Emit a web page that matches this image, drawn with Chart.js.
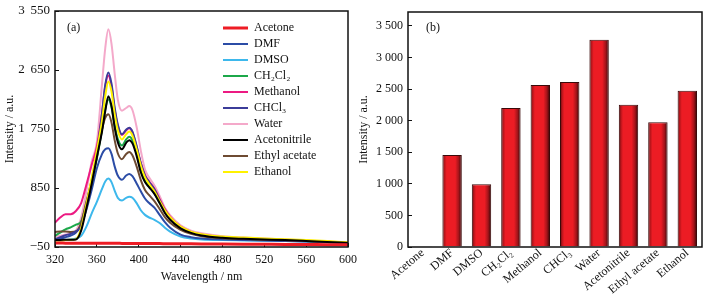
<!DOCTYPE html>
<html>
<head>
<meta charset="utf-8">
<script src="https://cdn.jsdelivr.net/npm/chart.js@4"></script>
<style>
	html, body { margin: 0; padding: 0; background: #fff; }
	body { width: 726px; height: 304px; position: relative; overflow: hidden; }
	#boxA { position: absolute; left: 0; top: 0; width: 360px; height: 304px; }
	#boxB { position: absolute; left: 356px; top: 0; width: 370px; height: 304px; }
</style>
</head>
<body>
<div id="boxA"><canvas id="spectraChart" width="360" height="304"></canvas></div>
<div id="boxB"><canvas id="peakChart" width="370" height="304"></canvas></div>
<script>
// panel (a): emission spectra
const wavelengths = [320, 325, 330, 335, 340, 345, 350, 355, 360, 365, 368, 371, 374, 377, 380, 384, 388, 391, 394, 398, 402, 406, 410, 415, 420, 425, 430, 440, 450, 460, 480, 500, 520, 540, 560, 580, 600];

const acetone = [10, 10, 9, 9, 8, 8, 8, 7, 7, 7, 7, 7, 6, 6, 6, 5, 5, 5, 5, 4, 4, 3, 3, 2, 2, 1, 0, -1, -2, -3, -5, -7, -9, -11, -12, -14, -15];
const dmf = [65, 80, 100, 125, 170, 290, 520, 820, 1150, 1370, 1440, 1455, 1370, 1180, 1040, 975, 1040, 1063, 1030, 920, 800, 690, 620, 550, 440, 330, 245, 140, 100, 80, 65, 55, 50, 42, 33, 22, 10];
const dmso = [45, 50, 55, 65, 80, 120, 260, 460, 640, 840, 950, 995, 940, 810, 700, 660, 700, 717, 700, 620, 510, 440, 400, 365, 315, 245, 185, 110, 80, 65, 55, 50, 45, 40, 32, 22, 10];
const ch2cl2 = [120, 170, 220, 250, 290, 340, 620, 950, 1300, 1750, 2050, 2200, 2080, 1800, 1600, 1500, 1590, 1630, 1580, 1380, 1120, 960, 870, 770, 620, 480, 375, 240, 165, 125, 90, 75, 65, 55, 42, 28, 12];
const methanol = [320, 400, 450, 450, 500, 620, 900, 1200, 1480, 2000, 2400, 2565, 2400, 2050, 1800, 1660, 1730, 1760, 1700, 1480, 1230, 1050, 950, 840, 680, 530, 415, 260, 180, 140, 100, 80, 70, 58, 45, 30, 15];
const chcl3 = [70, 100, 130, 150, 190, 260, 560, 920, 1380, 2000, 2420, 2610, 2440, 2080, 1820, 1670, 1740, 1770, 1710, 1490, 1230, 1040, 940, 830, 660, 510, 395, 250, 170, 130, 95, 80, 70, 58, 45, 30, 15];
const water = [110, 120, 140, 160, 200, 400, 800, 1250, 1550, 2450, 2980, 3270, 3050, 2600, 2200, 2030, 2070, 2100, 2040, 1780, 1420, 1130, 1010, 890, 730, 550, 435, 280, 200, 160, 115, 95, 80, 65, 50, 35, 20];
const acetonitrile = [55, 58, 60, 62, 65, 200, 540, 910, 1320, 1720, 2020, 2250, 2100, 1780, 1550, 1440, 1540, 1580, 1530, 1340, 1090, 940, 860, 760, 620, 470, 365, 235, 165, 125, 90, 75, 65, 55, 42, 28, 12];
const ethylAcetate = [180, 185, 185, 180, 185, 320, 640, 970, 1330, 1750, 1920, 1975, 1850, 1580, 1380, 1290, 1370, 1400, 1350, 1180, 970, 820, 740, 650, 530, 405, 320, 210, 150, 115, 85, 72, 62, 52, 40, 27, 12];
const ethanol = [45, 50, 55, 60, 70, 240, 600, 1000, 1420, 1880, 2250, 2475, 2320, 1980, 1730, 1590, 1670, 1710, 1650, 1440, 1190, 1010, 910, 800, 650, 510, 405, 260, 185, 145, 110, 95, 80, 68, 55, 40, 22];

const xTicksA = [320, 360, 400, 440, 480, 520, 560, 600];
const yTicksA = [-50, 850, 1750, 2650, 3550];

// panel (b): peak intensity per solvent
const solvents = ["Acetone", "DMF", "DMSO", "CH\u2082Cl\u2082", "Methanol", "CHCl\u2083", "Water", "Acetonitrile", "Ethyl acetate", "Ethanol"];
const peakIntensity = [10, 1455, 995, 2200, 2565, 2610, 3280, 2250, 1975, 2475];
const yTicksB = [0, 500, 1000, 1500, 2000, 2500, 3000, 3500];

const serif = '"Liberation Serif", "DejaVu Serif", serif';
Chart.defaults.font.family = serif;
Chart.defaults.color = "#111";

function fmt(v, sep) {
	const s = String(Math.abs(v));
	const t = s.length > 3 ? s.slice(0, -3) + sep + s.slice(-3) : s;
	return (v < 0 ? "\u2212" : "") + t;
}

function pts(ys) {
	return wavelengths.map((x, i) => ({ x: x, y: ys[i] }));
}

// fixed axis box, no label overflow padding
function fixSize(w, h) {
	return (s) => {
		if (w !== null) s.width = w;
		if (h !== null) s.height = h;
		s.paddingTop = s.paddingBottom = s.paddingLeft = s.paddingRight = 0;
	};
}

function frame(tag, dx, dy) {
	return {
		id: "frame",
		afterDraw(chart) {
			const a = chart.chartArea;
			const ctx = chart.ctx;
			ctx.save();
			ctx.strokeStyle = "#111";
			ctx.lineWidth = 1.5;
			ctx.strokeRect(a.left, a.top, a.right - a.left, a.bottom - a.top);
			ctx.fillStyle = "#111";
			ctx.font = "12px " + serif;
			ctx.textBaseline = "middle";
			ctx.fillText(tag, a.left + dx, a.top + dy);
			ctx.restore();
		},
	};
}

// put the legend inside the plot, at the right
const legendMover = {
	id: "legendMover",
	afterLayout(chart) {
		const lg = chart.legend;
		if (!lg) return;
		const w = lg.width, h = lg.height;
		lg.left = 219;
		lg.top = 18;
		lg.right = lg.left + w;
		lg.bottom = lg.top + h;
	},
};

const series = [
	{ label: "Acetone", data: acetone, color: "#ee1c25", width: 3, order: 0 },
	{ label: "DMF", data: dmf, color: "#2b4ca6", width: 2, order: 7 },
	{ label: "DMSO", data: dmso, color: "#3db8ec", width: 2, order: 8 },
	{ label: "CH\u2082Cl\u2082", data: ch2cl2, color: "#1ca84a", width: 2, order: 6 },
	{ label: "Methanol", data: methanol, color: "#ec1a82", width: 2, order: 4 },
	{ label: "CHCl\u2083", data: chcl3, color: "#3b3c99", width: 2, order: 3 },
	{ label: "Water", data: water, color: "#f4a9ca", width: 2, order: 9 },
	{ label: "Acetonitrile", data: acetonitrile, color: "#000000", width: 2, order: 1 },
	{ label: "Ethyl acetate", data: ethylAcetate, color: "#6e4b32", width: 2, order: 5 },
	{ label: "Ethanol", data: ethanol, color: "#fff200", width: 2, order: 2 },
];

new Chart(document.getElementById("spectraChart"), {
	type: "line",
	data: {
		datasets: series.map((s) => ({
			label: s.label,
			data: pts(s.data),
			borderColor: s.color,
			backgroundColor: s.color,
			borderWidth: s.width,
			pointRadius: 0,
			fill: false,
			cubicInterpolationMode: "monotone",
			order: s.order,
		})),
	},
	options: {
		responsive: false,
		animation: false,
		events: [],
		layout: { padding: { top: 11, right: 12, left: 0, bottom: 0 } },
		plugins: {
			tooltip: { enabled: false },
			legend: {
				position: "chartArea",
				align: "start",
				labels: {
					usePointStyle: true,
					pointStyle: "line",
					pointStyleWidth: 25,
					padding: 4,
					color: "#111",
					font: { size: 12, family: serif },
					sort: (a, b) => a.datasetIndex - b.datasetIndex,
				},
			},
		},
		scales: {
			x: {
				type: "linear",
				min: 320,
				max: 600,
				afterBuildTicks: (s) => { s.ticks = xTicksA.map((v) => ({ value: v })); },
				afterFit: fixSize(null, 57),
				grid: { drawOnChartArea: false, tickLength: -4, color: "#111" },
				border: { display: false },
				ticks: { padding: 10, font: { size: 12 }, color: "#111", maxRotation: 0 },
				title: { display: true, text: "Wavelength / nm", font: { size: 12 }, color: "#111", padding: { top: 0, bottom: 20 } },
			},
			y: {
				min: -50,
				max: 3550,
				afterBuildTicks: (s) => { s.ticks = yTicksA.map((v) => ({ value: v })); },
				afterFit: fixSize(55, null),
				grid: { drawOnChartArea: false, tickLength: -4, color: "#111" },
				border: { display: false },
				ticks: { padding: 9, font: { size: 13 }, color: "#111", callback: (v) => fmt(v, " \u2009") },
				title: { display: true, text: "Intensity / a.u.", font: { size: 12 }, color: "#111", padding: { top: 3, bottom: 0 } },
			},
		},
	},
	plugins: [legendMover, frame("(a)", 12, 17)],
});

function barFill(context) {
	const chart = context.chart;
	const xs = chart.scales.x;
	if (!chart.chartArea || !xs || context.dataIndex === undefined) return "#ec1c24";
	const cx = xs.getPixelForValue(context.dataIndex);
	const half = (xs.width / solvents.length) * 0.66 / 2;
	const g = chart.ctx.createLinearGradient(cx - half, 0, cx + half, 0);
	g.addColorStop(0, "#4a0608");
	g.addColorStop(0.1, "#b3141a");
	g.addColorStop(0.22, "#ec1c24");
	g.addColorStop(0.66, "#ec1c24");
	g.addColorStop(0.84, "#a3141a");
	g.addColorStop(1, "#2e0405");
	return g;
}

new Chart(document.getElementById("peakChart"), {
	type: "bar",
	data: {
		labels: solvents,
		datasets: [
			{
				label: "Intensity",
				data: peakIntensity,
				backgroundColor: barFill,
				borderColor: "#3a0a0a",
				borderWidth: 1,
				categoryPercentage: 1,
				barPercentage: 0.66,
			},
		],
	},
	options: {
		responsive: false,
		animation: false,
		events: [],
		layout: { padding: { top: 12, right: 24, left: 0, bottom: 0 } },
		plugins: { legend: { display: false }, tooltip: { enabled: false } },
		scales: {
			x: {
				afterFit: fixSize(null, 57),
				grid: { display: false, drawTicks: false },
				border: { display: false },
				ticks: { padding: -1, font: { size: 12 }, color: "#111", minRotation: 40, maxRotation: 40, autoSkip: false },
			},
			y: {
				min: 0,
				max: 3720,
				afterBuildTicks: (s) => { s.ticks = yTicksB.map((v) => ({ value: v })); },
				afterFit: fixSize(52, null),
				grid: { drawOnChartArea: false, tickLength: -4, color: "#111" },
				border: { display: false },
				ticks: { padding: 9, font: { size: 12 }, color: "#111", callback: (v) => fmt(v, " ") },
				title: { display: true, text: "Intensity / a.u.", font: { size: 12 }, color: "#111", padding: { top: 1, bottom: 0 } },
			},
		},
	},
	plugins: [frame("(b)", 18, 16)],
});
</script>
</body>
</html>
